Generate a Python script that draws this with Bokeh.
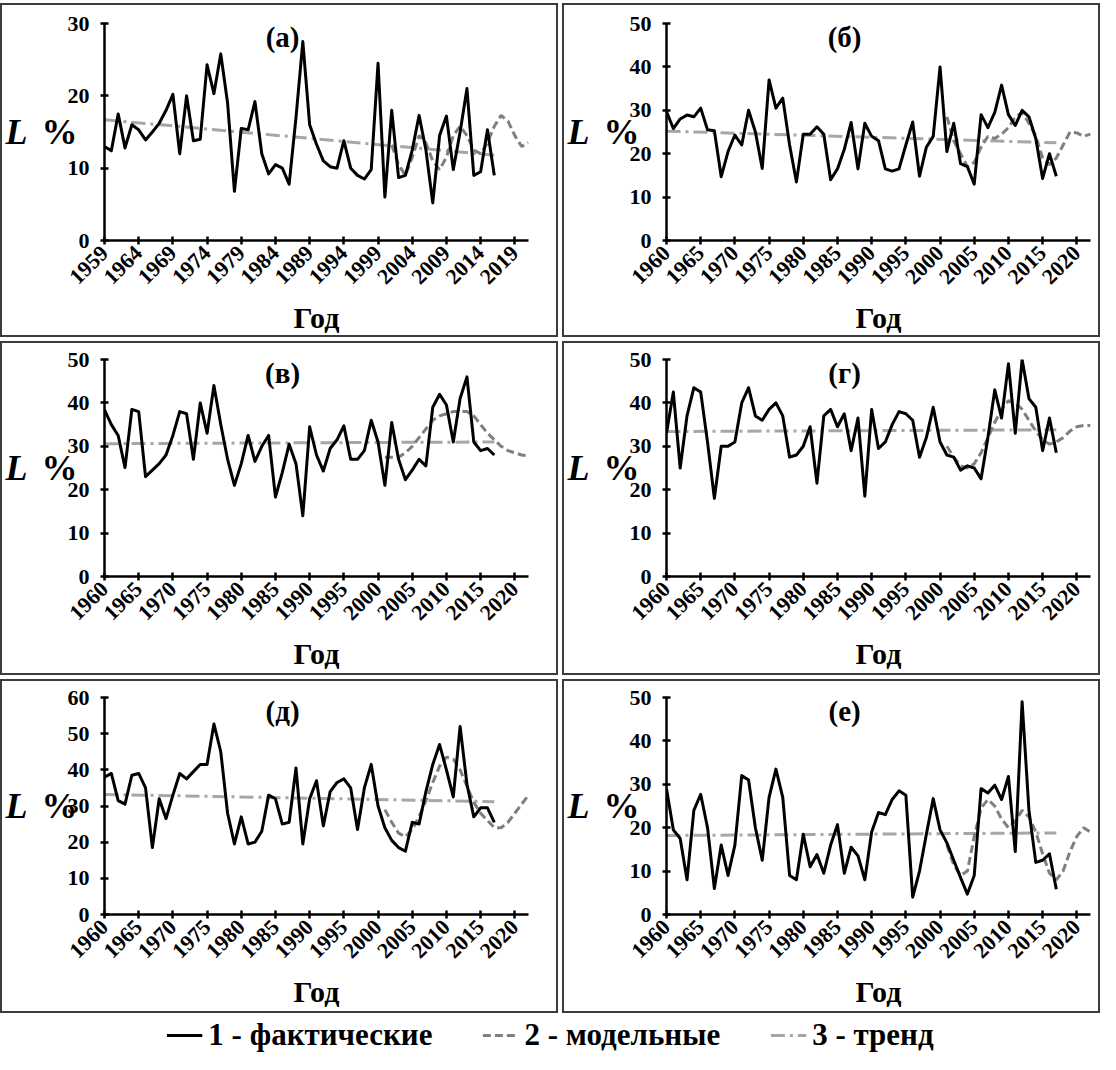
import math
from bokeh.plotting import figure
from bokeh.models import Range1d, FixedTicker, Label, Legend, LegendItem, LinearAxis
from bokeh.layouts import column, row
from bokeh.embed import file_html
from bokeh.resources import INLINE

FONT = "Liberation Serif"

# ---------------- data ----------------
titles = ["(а)", "(б)", "(в)", "(г)", "(д)", "(е)"]

start_a = 1959
actual_a = [13.0, 12.4, 17.5, 12.8, 16.0, 15.3, 13.9, 15.0, 16.2, 18.0,
            20.2, 12.0, 20.0, 13.8, 14.0, 24.3, 20.3, 25.8, 19.0, 6.8,
            15.5, 15.3, 19.2, 12.0, 9.2, 10.5, 10.0, 7.8, 17.0, 27.5,
            16.0, 13.3, 11.0, 10.2, 10.0, 13.8, 10.0, 9.0, 8.5, 9.8,
            24.5, 6.0, 18.0, 8.7, 9.0, 12.5, 17.3, 12.5, 5.2, 14.5,
            17.2, 9.8, 15.0, 21.0, 9.0, 9.5, 15.3, 9.0]
model_a = [13.2, 10.5, 9.0, 11.5, 14.5, 13.5, 11.0, 9.8, 11.5, 14.5, 15.8,
           14.5, 12.5, 12.0, 13.5, 15.8, 17.3, 16.5, 14.5, 13.0, 13.5]
trend_a = [16.7, 11.8]

start_b = 1960
actual_b = [29.7, 25.8, 28.0, 28.9, 28.5, 30.5, 25.5, 25.3, 14.7, 20.5,
            24.3, 22.0, 30.0, 25.0, 16.6, 37.0, 30.5, 32.8, 22.0, 13.5,
            24.5, 24.5, 26.2, 24.5, 14.0, 16.5, 21.0, 27.2, 16.5, 27.0,
            24.0, 23.0, 16.5, 16.0, 16.5, 22.0, 27.3, 14.8, 21.5, 24.0,
            40.0, 20.5, 27.0, 17.7, 17.0, 13.0, 29.0, 26.0, 29.5, 35.8,
            29.0, 26.5, 30.0, 28.5, 23.5, 14.3, 20.0, 14.8]
model_b = [28.5, 23.0, 20.0, 17.0, 18.0, 21.5, 24.0, 23.5, 24.5, 26.0, 28.5,
           29.5, 27.0, 24.0, 19.0, 17.5, 19.0, 22.0, 25.0, 24.8, 24.0, 24.5]
trend_b = [25.2, 22.5]

actual_v = [38.4, 35.0, 32.5, 25.1, 38.5, 38.0, 23.0, 24.5, 26.0, 28.0,
            32.5, 38.0, 37.5, 27.0, 40.0, 33.0, 44.0, 35.0, 27.0, 21.0,
            26.0, 32.5, 26.5, 30.0, 32.5, 18.3, 24.0, 30.5, 26.0, 14.0,
            34.5, 28.0, 24.3, 29.5, 31.5, 34.7, 27.0, 27.0, 29.0, 36.0,
            31.0, 21.0, 35.5, 27.0, 22.3, 24.5, 27.0, 25.5, 39.0, 42.0,
            39.5, 31.0, 41.0, 46.0, 31.0, 29.0, 29.5, 28.0]
model_v = [27.5, 27.5, 27.5, 28.5, 30.0, 32.0, 34.0, 36.0, 37.0, 37.5, 38.0,
           38.0, 38.0, 37.0, 35.0, 33.0, 31.5, 30.0, 29.0, 28.5, 28.0, 27.8]
trend_v = [30.6, 31.0]

actual_g = [33.0, 42.5, 25.0, 37.0, 43.5, 42.5, 31.0, 18.0, 30.0, 30.0,
            31.0, 40.0, 43.5, 37.0, 36.0, 38.5, 40.0, 37.0, 27.5, 28.0,
            30.0, 34.5, 21.5, 37.0, 38.5, 34.5, 37.5, 29.0, 36.5, 18.5,
            38.5, 29.5, 31.0, 35.0, 38.0, 37.5, 36.0, 27.5, 32.0, 39.0,
            31.0, 28.0, 27.5, 24.5, 25.5, 25.0, 22.5, 32.0, 43.0, 36.5,
            49.0, 33.0, 50.0, 41.0, 39.0, 29.0, 36.5, 28.5]
model_g = [30.0, 27.5, 25.5, 25.0, 26.0, 28.5, 32.0, 35.5, 38.5, 40.5, 40.0,
           38.5, 36.0, 33.5, 31.5, 30.5, 31.0, 32.0, 33.5, 34.5, 34.8, 34.8]
trend_g = [33.4, 33.8]

actual_d = [38.0, 39.0, 31.5, 30.5, 38.5, 39.0, 35.0, 18.5, 32.0, 26.5,
            33.0, 39.0, 37.5, 39.5, 41.5, 41.5, 52.7, 45.0, 28.0, 19.5,
            27.0, 19.5, 20.0, 23.0, 33.0, 32.0, 25.0, 25.5, 40.5, 19.5,
            32.0, 37.0, 24.5, 34.0, 36.5, 37.5, 35.0, 23.5, 35.0, 41.5,
            30.0, 24.0, 20.5, 18.5, 17.5, 25.5, 25.0, 34.0, 41.5, 47.0,
            40.0, 32.5, 52.0, 36.0, 27.0, 29.5, 29.5, 25.5]
model_d = [29.0, 25.5, 22.5, 21.5, 23.5, 27.0, 31.5, 36.5, 41.0, 43.5, 43.0,
           40.0, 35.5, 31.0, 28.0, 26.0, 24.0, 24.0, 25.5, 28.0, 30.5, 33.0]
trend_d = [33.2, 31.2]

actual_e = [29.0, 19.5, 17.5, 8.0, 24.0, 27.7, 20.0, 6.0, 16.0, 9.0,
            16.0, 32.0, 31.0, 20.0, 12.5, 27.0, 33.5, 27.0, 9.0, 8.0,
            18.5, 11.0, 13.8, 9.5, 16.0, 20.7, 9.5, 15.5, 13.5, 8.0,
            19.0, 23.5, 23.0, 26.5, 28.5, 27.5, 4.0, 10.0, 18.5, 26.7,
            19.5, 16.5, 12.5, 8.5, 4.7, 9.0, 29.0, 28.0, 29.8, 26.5,
            31.8, 14.5, 49.0, 24.0, 12.0, 12.5, 14.0, 5.8]
model_e = [16.0, 11.5, 9.0, 10.0, 18.0, 24.5, 26.5, 25.0, 22.0, 20.0, 21.5,
           24.0, 22.5, 19.0, 14.0, 9.5, 8.0, 10.0, 14.5, 18.0, 20.0, 19.0]
trend_e = [18.2, 18.8]

model_start = 2001
ymax_list = [30, 50, 50, 50, 60, 50]
xticks_a = [1959, 1964, 1969, 1974, 1979, 1984, 1989, 1994, 1999, 2004, 2009, 2014, 2019]
xticks_other = [1960, 1965, 1970, 1975, 1980, 1985, 1990, 1995, 2000, 2005, 2010, 2015, 2020]

legend_labels = ["1 - фактические", "2 - модельные", "3 - тренд"]
x_label = "Год"
y_label_italic = "L"
y_label_unit = "%"

# ---------------- styling ----------------
ACT_COLOR = "black"
MOD_COLOR = "#7f7f7f"
TR_COLOR = "#a6a6a6"
H = 334
FRAME_H = 217


def label_axis(text, style, standoff):
    ax = LinearAxis(ticker=FixedTicker(ticks=[]), axis_line_color=None,
                    major_tick_line_color=None, minor_tick_line_color=None,
                    major_label_text_font_size="0px")
    ax.axis_label = text
    ax.axis_label_orientation = "horizontal"
    ax.axis_label_text_font = FONT
    ax.axis_label_text_font_style = style
    ax.axis_label_text_font_size = "36px"
    ax.axis_label_text_color = "black"
    ax.axis_label_standoff = standoff
    return ax


def panel(title, start, actual, model, trend, ymax, xticks, width, top):
    x0 = start
    x1 = start + 62
    years = list(range(start, start + len(actual)))
    myears = list(range(model_start, model_start + len(model)))
    tyears = [years[0], years[-1]]
    p = figure(width=width, height=H, x_range=Range1d(x0, x1), y_range=Range1d(0, ymax),
               output_backend="svg", toolbar_location=None,
               min_border_left=102, min_border_right=width - 102 - 424,
               min_border_top=top, min_border_bottom=H - top - FRAME_H,
               styles={"border": "2px solid #3c3c3c", "box-sizing": "border-box"})
    p.outline_line_color = None
    p.grid.visible = False
    p.background_fill_color = "white"

    p.line(tyears, trend, line_color=TR_COLOR, line_width=3, line_dash="14 5 3 5")
    p.line(myears, model, line_color=MOD_COLOR, line_width=3, line_dash="8 4")
    p.line(years, actual, line_color=ACT_COLOR, line_width=3, line_join="round")

    p.xaxis.ticker = FixedTicker(ticks=xticks)
    p.yaxis.ticker = FixedTicker(ticks=list(range(0, ymax + 1, 10)))
    p.xaxis.major_label_orientation = math.pi / 4
    for ax in (p.xaxis[0], p.yaxis[0]):
        ax.axis_line_width = 2.5
        ax.axis_line_color = "black"
        ax.major_tick_line_width = 2.5
        ax.major_tick_line_color = "black"
        ax.major_tick_in = 4
        ax.major_tick_out = 4
        ax.minor_tick_line_color = None
        ax.major_label_text_font = FONT
        ax.major_label_text_font_style = "bold"
        ax.major_label_text_font_size = "22px"
        ax.major_label_text_color = "black"
    p.yaxis.major_label_standoff = 11
    p.xaxis.major_label_standoff = 5
    p.xaxis.axis_label = x_label
    p.xaxis.axis_label_text_font = FONT
    p.xaxis.axis_label_text_font_style = "bold"
    p.xaxis.axis_label_text_font_size = "30px"
    p.xaxis.axis_label_text_color = "black"
    p.xaxis.axis_label_standoff = 7

    p.add_layout(label_axis(y_label_unit, "bold", -13), "left")
    p.add_layout(label_axis(y_label_italic, "bold italic", 11), "left")

    p.add_layout(Label(x=x0 + 0.42 * (x1 - x0), y=0.94 * ymax, text=title,
                       text_align="center", text_baseline="middle",
                       text_font=FONT, text_font_style="bold", text_font_size="29px",
                       text_color="black"))
    return p


LW, RW = 558, 538
pa = panel(titles[0], start_a, actual_a, model_a, trend_a, ymax_list[0], xticks_a, LW, 18)
pb = panel(titles[1], start_b, actual_b, model_b, trend_b, ymax_list[1], xticks_other, RW, 18)
pv = panel(titles[2], start_b, actual_v, model_v, trend_v, ymax_list[2], xticks_other, LW, 16)
pg = panel(titles[3], start_b, actual_g, model_g, trend_g, ymax_list[3], xticks_other, RW, 16)
pd = panel(titles[4], start_b, actual_d, model_d, trend_d, ymax_list[4], xticks_other, LW, 16)
pe = panel(titles[5], start_b, actual_e, model_e, trend_e, ymax_list[5], xticks_other, RW, 16)

lf = figure(width=LW + RW + 4, height=36, x_range=Range1d(0, 1), y_range=Range1d(0, 1),
            output_backend="svg", toolbar_location=None, min_border=0)
lf.axis.visible = False
lf.grid.visible = False
lf.outline_line_color = None
r1 = lf.line([5, 6], [5, 6], line_color=ACT_COLOR, line_width=3)
r2 = lf.line([5, 6], [5, 6], line_color=MOD_COLOR, line_width=3, line_dash="8 4")
r3 = lf.line([5, 6], [5, 6], line_color=TR_COLOR, line_width=3, line_dash="14 5 3 5")
leg = Legend(items=[LegendItem(label=legend_labels[0], renderers=[r1]),
                    LegendItem(label=legend_labels[1], renderers=[r2]),
                    LegendItem(label=legend_labels[2], renderers=[r3])],
             orientation="horizontal", location="center",
             label_text_font=FONT, label_text_font_style="bold", label_text_font_size="31px",
             label_text_color="black", label_height=26,
             glyph_width=36, glyph_height=20, spacing=50, label_standoff=6,
             border_line_color=None, background_fill_alpha=0, padding=0, margin=0)
lf.add_layout(leg)

layout = column(row(pa, pb, spacing=4),
                row(pv, pg, spacing=4),
                row(pd, pe, spacing=4),
                lf, spacing=4, margin=(3, 0, 0, 0))

open("out.html", "w").write(file_html(layout, INLINE))
